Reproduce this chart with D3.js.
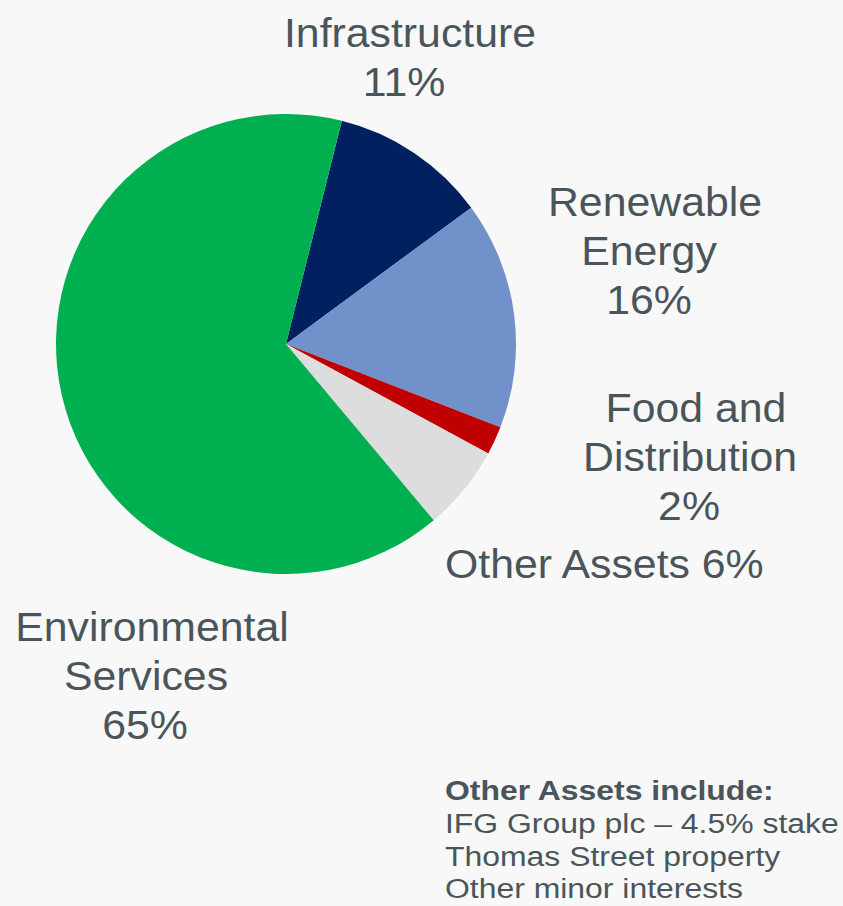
<!DOCTYPE html>
<html>
<head>
<meta charset="utf-8">
<script src="https://cdnjs.cloudflare.com/ajax/libs/d3/7.8.5/d3.min.js"></script>
<style>
  html, body { margin: 0; padding: 0; background: #f8f8f8; }
  svg { display: block; }
  text { font-family: "Liberation Sans", Arial, sans-serif; fill: #4a555b; }
</style>
</head>
<body>
<svg id="chart"></svg>
<script>
// slice data, clockwise from the top
const categories = ["Infrastructure", "Renewable Energy", "Food and Distribution", "Other Assets", "Environmental Services"];
const shares = [11, 16, 2, 6, 65];
const sliceColors = ["#002060", "#7191ca", "#c00000", "#dddddd", "#00b050"];

// label lines for each slice
const labelLines = [
  ["Infrastructure", "11%"],
  ["Renewable", "Energy", "16%"],
  ["Food and", "Distribution", "2%"],
  ["Other Assets 6%"],
  ["Environmental", "Services", "65%"]
];
const noteTitle = "Other Assets include:";
const noteLines = ["IFG Group plc \u2013 4.5% stake", "Thomas Street property", "Other minor interests"];

var width = 843, height = 906;
var svg = d3.select("#chart").attr("width", width).attr("height", height);

svg.append("rect").attr("width", width).attr("height", height).attr("fill", "#f8f8f8");

var dims = { cx: 286, cy: 344, radius: 230 };

var pie = d3.pie()
  .sort(null)
  .value((d) => d)
  .startAngle(0.245)
  .endAngle(0.245 + 2 * Math.PI);

var arc = d3.arc().innerRadius(0).outerRadius(dims.radius);

var pieG = svg.append("g")
  .attr("transform", "translate(" + dims.cx + "," + dims.cy + ")");

pieG.selectAll("path")
  .data(pie(shares))
  .enter()
  .append("path")
  .attr("d", arc)
  .attr("fill", (d, i) => sliceColors[i]);

// label placement: x per line (center or left), first baseline, anchor
var labelPos = [
  { x: [410, 404], y: 47, anchor: "middle" },
  { x: [655, 649, 649], y: 216, anchor: "middle" },
  { x: [696, 690, 689], y: 422, anchor: "middle" },
  { x: [445], y: 578, anchor: "start" },
  { x: [152, 146, 145], y: 641, anchor: "middle" }
];
var lineGap = 49.2;

labelLines.forEach(function (lines, i) {
  var p = labelPos[i];
  lines.forEach(function (line, j) {
    var x = p.x[j], y = p.y + j * lineGap;
    svg.append("text")
      .attr("transform", "translate(" + x + "," + y + ") scale(1.07,1)")
      .attr("text-anchor", p.anchor)
      .style("font-size", "40px")
      .text(line);
  });
});

// note block at bottom right
var note = svg.append("g");
note.append("text")
  .attr("transform", "translate(445,800) scale(1.14,1)")
  .style("font-size", "28px")
  .style("font-weight", "bold")
  .text(noteTitle);
noteLines.forEach(function (line, j) {
  note.append("text")
    .attr("transform", "translate(445," + (833 + j * 32.5) + ") scale(1.14,1)")
    .style("font-size", "28px")
    .text(line);
});
</script>
</body>
</html>
